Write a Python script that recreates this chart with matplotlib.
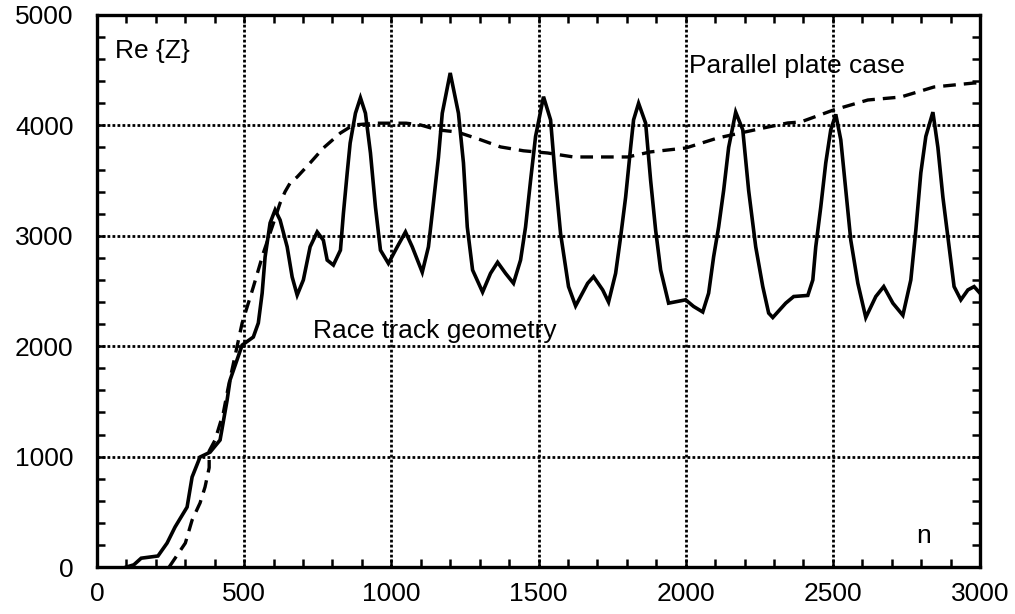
import matplotlib
matplotlib.use("Agg")
import matplotlib.pyplot as plt
from matplotlib.ticker import MultipleLocator

plt.rcParams["font.family"] = ["Liberation Sans", "DejaVu Sans"]

# Race track geometry (solid)
race_n = [100, 125, 150, 207, 238, 265, 306, 323, 350, 384, 418, 442, 452,
          493, 531, 548, 561, 571, 588, 605, 622, 646, 663, 680, 701, 724,
          748, 769, 782, 803, 827, 837, 850, 860, 878, 895, 912, 929, 946,
          963, 990, 1020, 1048, 1071, 1105, 1126, 1143, 1160, 1173, 1200,
          1228, 1245, 1258, 1276, 1310, 1337, 1361, 1388, 1415, 1439, 1456,
          1473, 1490, 1517, 1541, 1558, 1575, 1602, 1626, 1667, 1687, 1718,
          1738, 1762, 1779, 1796, 1813, 1823, 1840, 1864, 1881, 1898, 1915,
          1942, 2000, 2027, 2058, 2078, 2095, 2112, 2129, 2146, 2170, 2194,
          2214, 2238, 2262, 2282, 2296, 2340, 2367, 2415, 2432, 2442, 2459,
          2476, 2493, 2510, 2527, 2544, 2561, 2585, 2612, 2646, 2673, 2704,
          2738, 2765, 2782, 2799, 2816, 2840, 2857, 2874, 2895, 2912, 2935,
          2959, 2980, 3000]
race_z = [0, 20, 80, 100, 217, 362, 543, 815, 996, 1040, 1150, 1512, 1694,
          2010, 2083, 2210, 2480, 2808, 3116, 3234, 3143, 2900, 2627, 2463,
          2600, 2900, 3035, 2960, 2780, 2735, 2870, 3200, 3570, 3840, 4110,
          4250, 4110, 3750, 3260, 2870, 2750, 2900, 3035, 2900, 2670, 2900,
          3300, 3710, 4110, 4475, 4110, 3660, 3080, 2690, 2490, 2660, 2760,
          2660, 2570, 2780, 3080, 3500, 3900, 4260, 4050, 3500, 3020, 2540,
          2365, 2570, 2630, 2510, 2400, 2660, 2990, 3350, 3800, 4050, 4200,
          4020, 3500, 3050, 2690, 2390, 2420, 2360, 2310, 2480, 2810, 3080,
          3410, 3800, 4120, 3960, 3410, 2900, 2540, 2300, 2260, 2390, 2450,
          2460, 2600, 2900, 3260, 3660, 3960, 4100, 3870, 3410, 2960, 2570,
          2260, 2450, 2540, 2390, 2280, 2600, 3050, 3570, 3900, 4120, 3800,
          3350, 2900, 2540, 2420, 2510, 2540, 2480]

# Parallel plate case (dashed)
plate_n = [245, 300, 323, 350, 367, 381, 381, 401, 429, 446, 493, 510, 531,
           565, 595, 622, 639, 656, 680, 724, 769, 827, 871, 950, 1050, 1099,
           1156, 1224, 1303, 1371, 1449, 1531, 1619, 1803, 1881, 2000, 2109,
           2265, 2347, 2391, 2503, 2619, 2731, 2844, 2980, 3000]
plate_z = [0, 217, 425, 580, 725, 900, 1050, 1150, 1395, 1630, 2210, 2355,
           2536, 2844, 3080, 3297, 3400, 3478, 3533, 3660, 3795, 3931, 4004,
           4020, 4020, 4004, 3960, 3940, 3870, 3805, 3770, 3750, 3714, 3714,
           3760, 3795, 3886, 3977, 4022, 4031, 4140, 4230, 4257, 4348, 4384,
           4384]

fig = plt.figure(figsize=(10.15, 6.14), dpi=100)
ax = fig.add_axes([0.0956, 0.0765, 0.8699, 0.8991])

ax.plot(race_n, race_z, color="black", linewidth=2.6, solid_joinstyle="miter")
ax.plot(plate_n, plate_z, color="black", linewidth=2.4, dashes=(3.8, 2.4))

ax.set_xlim(0, 3000)
ax.set_ylim(0, 5000)
ax.xaxis.set_major_locator(MultipleLocator(500))
ax.xaxis.set_minor_locator(MultipleLocator(100))
ax.yaxis.set_major_locator(MultipleLocator(1000))
ax.yaxis.set_minor_locator(MultipleLocator(200))

ax.grid(True, which="major", color="black", linestyle=(0, (1, 0.8)), linewidth=2.0)
ax.tick_params(which="both", direction="in", top=True, right=True,
               width=1.8, length=6, labelsize=19, colors="black")
ax.tick_params(axis="x", which="major", pad=11)
ax.tick_params(axis="y", which="major", pad=17)
for sp in ax.spines.values():
    sp.set_linewidth(2.4)

ax.text(61, 4610, "Re {Z}", fontsize=19, va="baseline")
ax.text(2010, 4475, "Parallel plate case", fontsize=19, va="baseline")
ax.text(735, 2074, "Race track geometry", fontsize=19, va="baseline")
ax.text(2782, 217, "n", fontsize=19, va="baseline")

fig.savefig("out.png", dpi=100)
